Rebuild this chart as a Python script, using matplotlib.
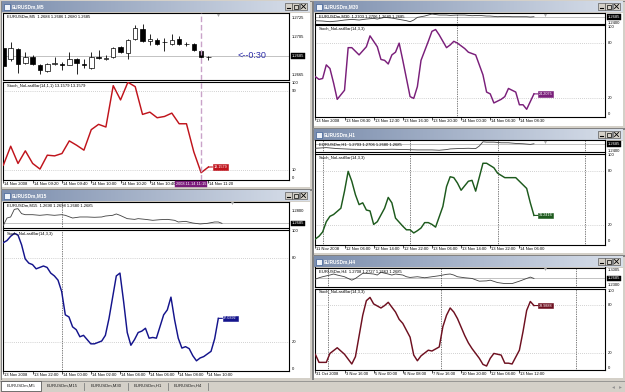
import numpy as np
import matplotlib
matplotlib.use('Agg')
import matplotlib.pyplot as plt
from matplotlib.patches import Rectangle
from matplotlib.colors import LinearSegmentedColormap
import matplotlib.transforms as mtransforms

plt.rcParams['font.family'] = ['Liberation Sans', 'DejaVu Sans']

# ---------------- data ----------------
# M5 candles
m5_open = [1.2693, 1.2682, 1.2692, 1.2678, 1.2684, 1.2676, 1.2669, 1.2677, 1.2677, 1.2676, 1.2682, 1.2677, 1.2672, 1.2684, 1.2682,
           1.2684, 1.2694, 1.2688, 1.2703, 1.2713, 1.2701, 1.2702, 1.2700, 1.2698, 1.2703, 1.2698, 1.2698, 1.2690, 1.2684]
m5_high = [1.2694, 1.2700, 1.2693, 1.2689, 1.2686, 1.2677, 1.2678, 1.2684, 1.2679, 1.2689, 1.2683, 1.2682, 1.2689, 1.2691, 1.2686,
           1.2694, 1.2696, 1.2703, 1.2718, 1.2719, 1.2708, 1.2704, 1.2704, 1.2708, 1.2706, 1.2700, 1.2699, 1.2691, 1.2685]
m5_low = [1.2672, 1.2680, 1.2667, 1.2677, 1.2676, 1.2666, 1.2668, 1.2676, 1.2670, 1.2675, 1.2666, 1.2672, 1.2671, 1.2682, 1.2681,
          1.2683, 1.2688, 1.2682, 1.2702, 1.2700, 1.2697, 1.2697, 1.2690, 1.2697, 1.2697, 1.2695, 1.2690, 1.2683, 1.2681]
m5_close = [1.2674, 1.2693, 1.2677, 1.2684, 1.2677, 1.2670, 1.2677, 1.2678, 1.2676, 1.2682, 1.2678, 1.2676, 1.2684, 1.2683, 1.2683,
            1.2693, 1.2689, 1.2702, 1.2715, 1.2701, 1.2703, 1.2698, 1.2700, 1.2702, 1.2698, 1.2698, 1.2691, 1.2684, 1.2684]
m5_stoch = [15.1, 34.3, 16.8, 29.6, 16.8, 11.1, 25.2, 24.5, 26.9, 39.7, 35.3, 30.3, 51.1, 56.5, 53.8, 95.8, 81.3, 99.2, 94.8,
            66.6, 68.9, 63.2, 64.5, 67.9, 57.1, 57.1, 28.6, 7.4, 13.2]
m5_time_bars = [0, 4, 8, 12, 16, 20, 28]
m5_time_labels = ['14 Nov 2008', '14 Nov 09:20', '14 Nov 09:40', '14 Nov 10:00', '14 Nov 10:20', '14 Nov 10:40',
                  '14 Nov 11:20']
m5_cursor_bar = 27
m5_cursor_label = '2008.11.14 11:15'

# M15
m15_price_bar = [0, 1, 2, 3, 4, 5, 6, 8, 10, 12, 14, 16, 17, 19, 21, 23, 25, 27, 28, 30, 31, 32, 34, 36, 37, 39, 41, 43, 45, 47,
                 48, 50, 52, 54, 56, 58, 59, 60]
m15_price = [1.2666, 1.2736, 1.2746, 1.2819, 1.2826, 1.2778, 1.2768, 1.2768, 1.2762, 1.2768, 1.2762, 1.2768, 1.2762, 1.2736,
             1.2746, 1.2746, 1.2743, 1.2746, 1.2755, 1.2762, 1.2775, 1.2762, 1.2730, 1.2723, 1.2730, 1.2723, 1.2714, 1.2720,
             1.2723, 1.2714, 1.2698, 1.2704, 1.2688, 1.2679, 1.2685, 1.2698, 1.2698, 1.2685]
m15_k_bar = list(range(0, 30)) + list(range(31, 43)) + list(range(44, 56)) + [57, 58, 59]
m15_k = [90.5, 92, 95, 97, 96, 89, 79, 76, 75, 72, 73, 74, 73, 69, 67, 64, 56, 39.5, 38, 31, 29, 24, 25, 22, 19, 19, 20, 21, 25,
         37, 67, 69, 49, 27, 18, 22, 27, 28, 30, 23, 23.5, 23, 39.5, 43, 52, 36, 23, 16, 17, 15.6, 10.6, 7, 9, 10, 13.7, 22.6, 37]
m15_time_bars = [0, 8, 16, 24, 32, 40, 48, 56]
m15_time_labels = ['13 Nov 2008', '13 Nov 22:00', '14 Nov 00:00', '14 Nov 02:00', '14 Nov 04:00', '14 Nov 06:00',
                   '14 Nov 08:00', '14 Nov 10:00']
m15_separators = [16]

# M30
m30_price_bar = [0, 2, 4, 6, 8, 10, 12, 14, 16, 17, 19, 21, 23, 25, 26, 27, 28, 30, 32, 34, 36, 37, 39, 41, 43, 45, 47, 48, 50,
                 52, 54, 56, 58, 59, 60]
m30_price = [1.2495, 1.2479, 1.2448, 1.2479, 1.2527, 1.2558, 1.2527, 1.2574, 1.2606, 1.2574, 1.2653, 1.2622, 1.2558, 1.2495,
             1.2448, 1.2527, 1.2653, 1.2717, 1.2812, 1.2764, 1.2764, 1.2748, 1.2764, 1.2764, 1.2733, 1.2748, 1.2717, 1.2717,
             1.2685, 1.2701, 1.2685, 1.2685, 1.2685, 1.2669, 1.2685]
m30_k_bar = [0, 1, 2, 3, 4, 5, 6, 8, 9, 10, 12, 14, 15, 17, 18, 19, 20, 21, 22, 23, 24, 26, 27, 28, 29, 31, 32, 33, 34, 36, 37,
             38, 39, 41, 42, 44, 46, 47, 48, 49, 51, 52, 53, 55, 56, 57, 58, 60]
m30_k = [43, 40, 41, 56, 52, 36, 18, 28, 75, 75, 67, 76, 88, 76, 62, 61, 57, 67, 70, 80, 61, 21, 19, 32, 61, 82, 93, 95, 89, 75,
         78, 82, 80, 74, 70, 67, 45, 26, 24, 14, 18, 21, 30, 26, 12, 12, 7, 24]
m30_time_bars = [0, 8, 16, 24, 32, 40, 48, 56]
m30_time_labels = ['13 Nov 2008', '13 Nov 08:30', '13 Nov 12:30', '13 Nov 16:30', '13 Nov 20:30', '14 Nov 00:30',
                   '14 Nov 04:30', '14 Nov 08:30']
m30_separators = [39]

# H1
h1_price_bar = [0, 3, 6, 10, 14, 17, 21, 25, 28, 32, 34, 36, 37, 39, 42, 44, 45, 46, 47, 49, 51, 53, 55, 57, 59, 60]
h1_price = [1.2504, 1.2530, 1.2491, 1.2465, 1.2452, 1.2452, 1.2465, 1.2452, 1.2439, 1.2439, 1.2426, 1.2452, 1.2478, 1.2491,
            1.2504, 1.2491, 1.2594, 1.2763, 1.2750, 1.2750, 1.2724, 1.2724, 1.2698, 1.2685, 1.2659, 1.2685]
h1_k_bar = [0, 1, 2, 3, 4, 5, 7, 8, 9, 10, 11, 12, 13, 14, 15, 16, 17, 19, 20, 21, 22, 24, 25, 26, 27, 28, 29, 30, 31, 32, 33,
            35, 36, 37, 38, 39, 40, 42, 43, 44, 46, 47, 49, 50, 52, 53, 55, 56, 58, 59, 60]
h1_k = [4.8, 7.8, 12.6, 24, 30, 32, 39, 58, 80, 69, 54, 43, 45, 37, 36, 21, 24, 39, 51, 45, 28, 19, 15, 15, 11.5, 14, 17, 23,
        23, 21, 18, 41, 63, 74, 73, 67, 59, 69, 70, 58, 89, 89, 84, 78, 73, 73, 73, 69, 61, 45, 31]
h1_time_bars = [0, 8, 16, 24, 32, 40, 48, 56]
h1_time_labels = ['11 Nov 2008', '12 Nov 06:00', '12 Nov 14:00', '12 Nov 22:00', '13 Nov 06:00', '13 Nov 14:00',
                  '13 Nov 22:00', '14 Nov 06:00']
h1_separators = [2, 26, 50, 74]

# H4
h4_price_bar = [0, 1, 2, 4, 5, 6, 8, 10, 11, 13, 14, 16, 17, 18, 20, 21, 22, 24, 25, 26, 28, 30, 32, 34, 35, 36, 37, 38, 39, 41,
                43, 45, 47, 48, 50, 52, 54, 56, 58, 59, 60]
h4_price = [1.2659, 1.2711, 1.2749, 1.2813, 1.2851, 1.2813, 1.2749, 1.2621, 1.2685, 1.2877, 1.2877, 1.2851, 1.2813, 1.2915,
            1.2851, 1.2813, 1.2851, 1.2813, 1.2749, 1.2723, 1.2749, 1.2711, 1.2749, 1.2787, 1.2813, 1.2839, 1.2851, 1.2813,
            1.2749, 1.2711, 1.2685, 1.2583, 1.2595, 1.2621, 1.2531, 1.2493, 1.2493, 1.2583, 1.2685, 1.2736, 1.2685]
h4_k_bar = [0, 1, 3, 4, 6, 8, 10, 11, 13, 14, 15, 16, 18, 19, 20, 22, 23, 24, 26, 27, 28, 29, 31, 32, 34, 35, 36, 37, 38, 39,
            41, 42, 43, 45, 46, 47, 48, 49, 51, 52, 53, 54, 56, 57, 58, 59, 60]
h4_k = [18.8, 9, 9, 20, 27, 19, 7, 16, 67, 85, 89, 81, 76, 79, 83, 71, 62, 57, 40, 18, 11, 17, 24, 23, 28, 53, 67, 76, 71, 63,
        42, 33, 26, 14, 6.5, 4.5, 14, 20, 18, 8, 8, 7, 24, 47, 73, 84, 79]
h4_time_bars = [0, 8, 16, 24, 32, 40, 48, 56]
h4_time_labels = ['31 Oct 2008', '3 Nov 16:00', '5 Nov 00:00', '6 Nov 08:00', '7 Nov 16:00', '10 Nov 20:00',
                  '12 Nov 04:00', '13 Nov 12:00']
h4_separators = [3.5, 34.5, 71.5]

tab_labels = ['EURUSDm,M5', 'EURUSDm,M15', 'EURUSDm,M30', 'EURUSDm,H1', 'EURUSDm,H4']

# ---------------- figure ----------------
W, H = 625, 392
fig = plt.figure(figsize=(W / 100, H / 100), dpi=100)
fig.patch.set_facecolor('#d4d0c8')

bg = fig.add_axes([0, 0, 1, 1])
bg.set_xlim(0, W)
bg.set_ylim(H, 0)
bg.axis('off')

FS = 3.0
title_cmap = LinearSegmentedColormap.from_list('tb', ['#7d8fae', '#d8dfea'])


def window(x0, y0, x1, y1, title):
    bg.add_patch(Rectangle((x0 + 0.5, y0 + 0.5), x1 - x0 - 1, y1 - y0 - 1, fc='#d4d0c8', ec='#808080', lw=0.7, zorder=1))
    bg.add_patch(Rectangle((x0 + 2, y0 + 12.5), x1 - x0 - 4, y1 - y0 - 14.5, fc='white', ec='none', zorder=1))
    bg.imshow(np.linspace(0, 1, 64).reshape(1, -1), extent=(x0 + 2, x1 - 2, y0 + 12, y0 + 1.5), cmap=title_cmap,
              aspect='auto', interpolation='bilinear', zorder=2)
    bg.add_patch(Rectangle((x0 + 3.5, y0 + 3.5), 6, 6, fc='#eef3fa', ec='#3d5f95', lw=0.5, zorder=3))
    bg.text(x0 + 12, y0 + 7, title, color='white', fontsize=3.4, fontweight='bold', va='center', ha='left', zorder=3)
    xs = [x1 - 27, x1 - 20, x1 - 12]
    for bx in xs:
        bg.add_patch(Rectangle((bx, y0 + 3), 7, 7, fc='#d4d0c8', ec='#404040', lw=0.4, zorder=3))
    bg.plot([xs[0] + 1.7, xs[0] + 4.7], [y0 + 8.3, y0 + 8.3], color='black', lw=0.8, zorder=4)
    bg.add_patch(Rectangle((xs[1] + 1.5, y0 + 4.5), 4, 4, fc='none', ec='black', lw=0.5, zorder=4))
    bg.plot([xs[2] + 1.5, xs[2] + 5.5], [y0 + 4.5, y0 + 8.5], color='black', lw=0.6, zorder=4)
    bg.plot([xs[2] + 1.5, xs[2] + 5.5], [y0 + 8.5, y0 + 4.5], color='black', lw=0.6, zorder=4)


def pax(x0, y0, x1, y1, xlim, ylim):
    a = fig.add_axes([x0 / W, 1 - y1 / H, (x1 - x0) / W, (y1 - y0) / H])
    a.set_facecolor('white')
    for s in a.spines.values():
        s.set_linewidth(0.8)
        s.set_color('black')
    a.set_xticks([])
    a.set_yticks([])
    a.set_xlim(*xlim)
    a.set_ylim(*ylim)
    return a


def right_label(ax, val, text, boxed=False, va='center'):
    kw = dict(xy=(1, val), xycoords=('axes fraction', 'data'), xytext=(3, 0), textcoords='offset pixels',
              fontsize=FS, va=va, ha='left', annotation_clip=False, zorder=5)
    if boxed:
        kw.update(color='white', bbox=dict(boxstyle='square,pad=0.2', fc='black', ec='black', lw=0.3))
    ax.annotate(text, **kw)


def header(ax, text):
    ax.annotate(text, xy=(0, 1), xycoords='axes fraction', xytext=(4, -2), textcoords='offset pixels',
                fontsize=FS, va='top', ha='left', zorder=5)


def time_axis(ax, bars, labels):
    tr = mtransforms.blended_transform_factory(ax.transData, ax.transAxes)
    for b, t in zip(bars, labels):
        ax.plot([b], [0], marker=3, ms=2, mew=0.5, color='black', transform=tr, clip_on=False)
        ax.annotate(t, xy=(b, 0), xycoords=tr, xytext=(1, -4), textcoords='offset pixels', fontsize=FS,
                    va='center', ha='left', annotation_clip=False)


def shift_marker(ax, b):
    tr = mtransforms.blended_transform_factory(ax.transData, ax.transAxes)
    tr = mtransforms.offset_copy(tr, fig=fig, y=-1.5, units='dots')
    ax.plot([b], [1], marker='v', ms=2.2, color='#a8a8a8', mec='none', transform=tr, clip_on=False, zorder=4)


def separators(axes, seps):
    for a in axes:
        for s in seps:
            a.axvline(s, color='black', ls=(0, (1, 1.5)), lw=0.5, zorder=1)


def stoch_pane(ax, bars, vals, color, levels, level_labels, last_text):
    for lv in levels:
        ax.axhline(lv, color='#a8a8a8', ls=(0, (1, 2)), lw=0.5, zorder=1)
    ax.plot(bars, vals, color=color, lw=1.05, zorder=3, solid_joinstyle='round')
    ax.annotate(last_text, xy=(bars[-1], vals[-1]), xytext=(5, 0), textcoords='offset pixels', fontsize=2.7,
                color='white', va='center', ha='left', zorder=6,
                bbox=dict(boxstyle='square,pad=0.2', fc=color, ec=color, lw=0.4),
                arrowprops=dict(arrowstyle='-', color=color, lw=0.8, shrinkA=0, shrinkB=0))
    for v, t, va in level_labels:
        right_label(ax, v, t, va=va)


# ---------------- windows ----------------
window(0, 0, 312, 189, 'EURUSDm,M5')
window(0, 189, 312, 380, 'EURUSDm,M15')
window(312, 0, 625, 128, 'EURUSDm,M30')
window(312, 128, 625, 255, 'EURUSDm,H1')
window(312, 255, 625, 380, 'EURUSDm,H4')

# ---- M5 ----
xl = (-0.05, 39)
a_p = pax(3, 13, 289, 80, xl, (1.26597, 1.27303))
a_i = pax(3, 81.5, 289, 180, xl, (0, 100))
a_p.axhline(1.2685, color='#b8b8b8', lw=0.6, zorder=1)
x5 = np.arange(len(m5_open))
o, c = np.array(m5_open), np.array(m5_close)
a_p.vlines(x5, m5_low, m5_high, color='black', lw=0.6, zorder=2)
a_p.bar(x5, np.abs(c - o), bottom=np.minimum(o, c), width=0.62,
        color=['black' if cc < oo else 'white' for oo, cc in zip(o, c)], edgecolor='black', lw=0.5, zorder=3)
header(a_p, 'EURUSDm,M5  1.2684 1.2686 1.2680 1.2685')
for v, t in [(1.2725, '1.2725'), (1.2705, '1.2705'), (1.2665, '1.2665')]:
    right_label(a_p, v, t)
right_label(a_p, 1.2685, '1.2685', boxed=True)
a_p.annotate('<--0:30', xy=(31.9, 1.2685), fontsize=6.5, color='#2a2aa8', va='center', ha='left', zorder=5)
shift_marker(a_p, 29.3)
for a in (a_p, a_i):
    a.axvline(m5_cursor_bar, color='#c9a3c9', ls=(0, (4, 2)), lw=1.0, zorder=4)
stoch_pane(a_i, x5, m5_stoch, '#c0141c', [90, 10],
           [(100, '100', 'top'), (90, '90', 'center'), (10, '10', 'center'), (0, '0', 'bottom')], '13.1579')
header(a_i, 'Stoch_NoLastBar(14,1,1) 13.1579 13.1579')
time_axis(a_i, m5_time_bars, m5_time_labels)
a_i.annotate(m5_cursor_label, xy=(m5_cursor_bar, 0), xycoords=('data', 'axes fraction'), xytext=(5.5, -4),
             textcoords='offset pixels', fontsize=2.8, color='white', va='center', ha='right', zorder=10,
             annotation_clip=False, bbox=dict(boxstyle='square,pad=0.2', fc='#7a1a7a', ec='#7a1a7a', lw=0.3))

# ---- M15 ----
xl = (-0.1, 78.4)
a_p = pax(3, 202, 289, 228, xl, (1.26402, 1.28898))
a_i = pax(3, 229.5, 289, 371, xl, (-0.2, 99.8))
a_p.axhline(1.2685, color='#b8b8b8', lw=0.6, zorder=1)
a_p.plot(m15_price_bar, m15_price, color='#404040', lw=0.6, zorder=3)
header(a_p, 'EURUSDm,M15  1.2690 1.2698 1.2680 1.2685')
right_label(a_p, 1.2800, '1.2800')
right_label(a_p, 1.2685, '1.2685', boxed=True)
shift_marker(a_p, 62.8)
separators((a_p, a_i), m15_separators)
stoch_pane(a_i, m15_k_bar, m15_k, '#14148c', [80, 20],
           [(100, '100', 'top'), (80, '80', 'center'), (20, '20', 'center'), (0, '0', 'bottom')], '37.0392')
header(a_i, 'Stoch_NoLastBar(14,3,3)')
time_axis(a_i, m15_time_bars, m15_time_labels)

# ---- M30 ----
xl = (-0.1, 79.5)
a_p = pax(315, 13, 605, 23.5, xl, (1.2362, 1.2861))
a_i = pax(315, 25, 605, 117, xl, (-1.5, 100))
a_p.axhline(1.2685, color='#b8b8b8', lw=0.6, zorder=1)
a_p.plot(m30_price_bar, m30_price, color='#404040', lw=0.6, zorder=3)
header(a_p, 'EURUSDm,M30  1.2703 1.2706 1.2680 1.2685')
right_label(a_p, 1.2685, '1.2685', boxed=True)
right_label(a_p, 1.2400, '1.2400')
shift_marker(a_p, 63)
separators((a_p, a_i), m30_separators)
stoch_pane(a_i, m30_k_bar, m30_k, '#7a1f7a', [80, 20],
           [(100, '100', 'top'), (80, '80', 'center'), (20, '20', 'center'), (0, '0', 'bottom')], '24.2075')
header(a_i, 'Stoch_NoLastBar(14,3,3)')
time_axis(a_i, m30_time_bars, m30_time_labels)

# ---- H1 ----
a_p = pax(315, 140.5, 605, 152.5, xl, (1.2335, 1.2815))
a_i = pax(315, 154, 605, 245, xl, (-1.9, 99.3))
a_p.axhline(1.2685, color='#b8b8b8', lw=0.6, zorder=1)
a_p.plot(h1_price_bar, h1_price, color='#404040', lw=0.6, zorder=3)
header(a_p, 'EURUSDm,H1  1.2703 1.2706 1.2680 1.2685')
right_label(a_p, 1.2685, '1.2685', boxed=True)
right_label(a_p, 1.2400, '1.2400')
shift_marker(a_p, 63)
separators((a_p, a_i), h1_separators)
stoch_pane(a_i, h1_k_bar, h1_k, '#1d5a1d', [80, 20],
           [(100, '100', 'top'), (80, '80', 'center'), (20, '20', 'center'), (0, '0', 'bottom')], '31.2416')
header(a_i, 'Stoch_NoLastBar(14,3,3)')
time_axis(a_i, h1_time_bars, h1_time_labels)

# ---- H4 ----
a_p = pax(315, 267.5, 605, 287, xl, (1.2365, 1.3095))
a_i = pax(315, 288.5, 605, 370, xl, (-0.4, 100))
a_p.axhline(1.2685, color='#b8b8b8', lw=0.6, zorder=1)
a_p.plot(h4_price_bar, h4_price, color='#404040', lw=0.6, zorder=3)
header(a_p, 'EURUSDm,H4  1.2708 1.2727 1.2663 1.2685')
right_label(a_p, 1.3005, '1.3005')
right_label(a_p, 1.2685, '1.2685', boxed=True)
right_label(a_p, 1.2455, '1.2300')
shift_marker(a_p, 63)
separators((a_p, a_i), h4_separators)
stoch_pane(a_i, h4_k_bar, h4_k, '#6e1020', [80, 20],
           [(100, '100', 'top'), (80, '80', 'center'), (20, '20', 'center'), (0, '0', 'bottom')], '78.9888')
header(a_i, 'Stoch_NoLastBar(14,3,3)')
time_axis(a_i, h4_time_bars, h4_time_labels)

# ---------------- bottom tab strip ----------------
bg.add_patch(Rectangle((0, 380), W, 12, fc='#d4d0c8', ec='none', zorder=1))
bg.plot([0, W], [380.5, 380.5], color='#808080', lw=0.5, zorder=2)
tab_edges = [1, 41, 84, 128, 168, 208]
for i, lab in enumerate(tab_labels):
    x0, x1 = tab_edges[i], tab_edges[i + 1]
    if i == 0:
        bg.add_patch(Rectangle((x0, 380.5), x1 - x0, 10.5, fc='white', ec='#404040', lw=0.5, zorder=3))
    else:
        bg.plot([x1, x1], [383, 390], color='#808080', lw=0.6, zorder=3)
    bg.text((x0 + x1) / 2, 386, lab, fontsize=3.1, ha='center', va='center', color='#202020', zorder=4)
bg.plot([613], [387], marker='<', ms=2, color='#909090', mec='none', zorder=4)
bg.plot([620], [387], marker='>', ms=2, color='#909090', mec='none', zorder=4)

bg.set_xlim(0, W)
bg.set_ylim(H, 0)
fig.savefig('out.png', dpi=100, facecolor=fig.get_facecolor())
